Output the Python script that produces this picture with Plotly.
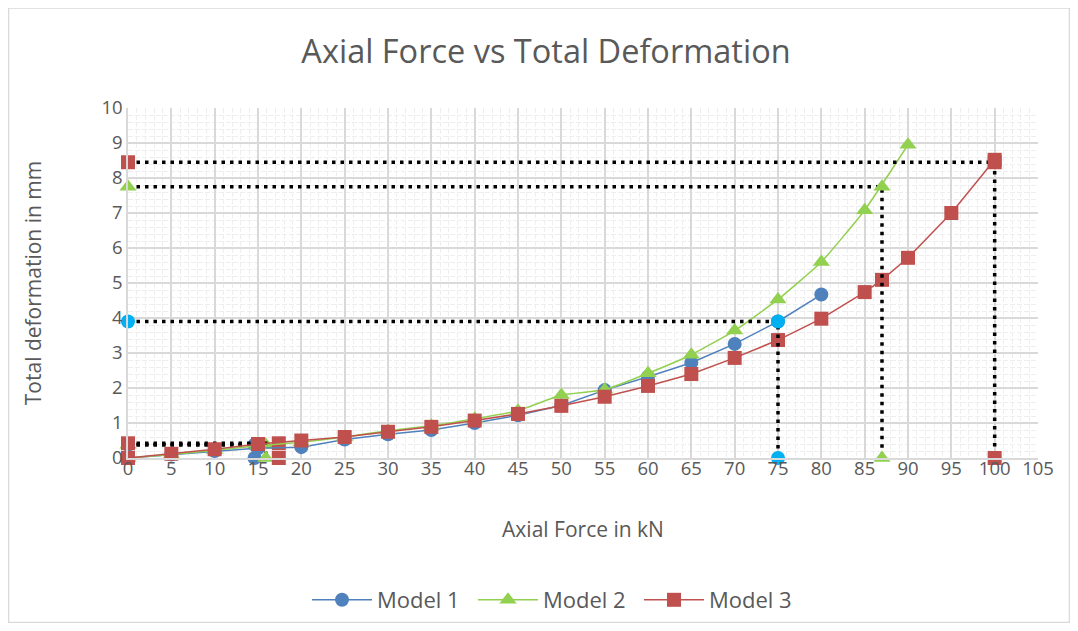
import plotly.graph_objects as go

# ---- data ----
force = [0, 5, 10, 15, 20, 25, 30, 35, 40, 45, 50, 55, 60, 65, 70, 75, 80, 85, 90, 95, 100]
model1_x = force[:17]
model1_y = [0, 0.1, 0.2, 0.28, 0.31, 0.53, 0.68, 0.8, 1.0, 1.22, 1.5, 1.94, 2.32, 2.72, 3.26, 3.9, 4.67]
model2_x = force[:19]
model2_y = [0, 0.1, 0.22, 0.35, 0.45, 0.6, 0.78, 0.92, 1.12, 1.35, 1.8, 1.95, 2.42, 2.95, 3.64, 4.53, 5.6, 7.08, 8.95]
model3_x = [0, 5, 10, 15, 20, 25, 30, 35, 40, 45, 50, 55, 60, 65, 70, 75, 80, 85, 87, 90, 95, 100]
model3_y = [0, 0.12, 0.25, 0.4, 0.5, 0.6, 0.75, 0.89, 1.07, 1.26, 1.49, 1.75, 2.06, 2.4, 2.86, 3.37, 3.98, 4.74, 5.09, 5.72, 7.0, 8.52]

# drop lines (reference points)
drop1_x = [0, 75, 75]
drop1_y = [3.9, 3.9, 0]
drop2_x = [0, 87, 87]
drop2_y = [7.75, 7.75, 0]
drop3_x = [0, 100, 100]
drop3_y = [8.45, 8.45, 0]
small1_x = [0, 14.6, 14.6]
small1_y = [0.38, 0.38, 0]
small2_x = [0, 15.9, 15.9]
small2_y = [0.38, 0.38, 0]
small3_x = [0, 17.4, 17.4]
small3_y = [0.42, 0.42, 0]

BLUE = "#4F81BD"
GREEN = "#92D050"
RED = "#C0504D"
CYAN = "#00B0F0"
TXT = "#595959"

fig = go.Figure()

dot = dict(color="black", width=3.5, dash="3.5px,5px")

def drop(x, y, sym, col, size):
    fig.add_trace(go.Scatter(x=x, y=y, mode="lines+markers", showlegend=False,
                             line=dot, cliponaxis=False,
                             marker=dict(symbol=sym, color=col, size=size, line=dict(width=0))))

drop(small1_x, small1_y, "circle", BLUE, 14)
drop(small2_x, small2_y, "triangle-up", GREEN, 15)
drop(small3_x, small3_y, "square", RED, 14)

fig.add_trace(go.Scatter(x=model1_x, y=model1_y, name="Model 1", mode="lines+markers",
                         cliponaxis=False,
                         line=dict(color=BLUE, width=1.5),
                         marker=dict(symbol="circle", color=BLUE, size=14)))
fig.add_trace(go.Scatter(x=model2_x, y=model2_y, name="Model 2", mode="lines+markers",
                         cliponaxis=False,
                         line=dict(color=GREEN, width=1.5, shape="spline", smoothing=0.4),
                         marker=dict(symbol="triangle-up", color=GREEN, size=15)))
fig.add_trace(go.Scatter(x=model3_x, y=model3_y, name="Model 3", mode="lines+markers",
                         cliponaxis=False,
                         line=dict(color=RED, width=1.5),
                         marker=dict(symbol="square", color=RED, size=14)))

drop(drop1_x, drop1_y, "circle", CYAN, 14)
drop(drop2_x, drop2_y, "triangle-up", GREEN, 15)
drop(drop3_x, drop3_y, "square", RED, 14)

axis_common = dict(
    showgrid=True, gridcolor="#D9D9D9", gridwidth=1.5,
    zeroline=False, showline=True, linecolor="#D9D9D9", linewidth=1.5,
    ticks="", tickfont=dict(family="Open Sans", size=18.5, color=TXT),
)

W, H = 1062, 615
fig.update_layout(
    width=W, height=H,
    paper_bgcolor="white", plot_bgcolor="white",
    margin=dict(l=120, r=32, t=100, b=165, autoexpand=False),
    title=dict(text="Axial Force vs Total Deformation", x=(546 - 8) / W, xanchor="center",
               y=1 - 44 / H, yanchor="middle",
               font=dict(family="Open Sans", size=32.5, color=TXT)),
    xaxis=dict(range=[0, 105], dtick=5, tick0=0, ticklabelstandoff=-7,
               title=dict(text="Axial Force in kN", standoff=43,
                          font=dict(family="Open Sans", size=21, color=TXT)),
               minor=dict(dtick=1, showgrid=True, gridcolor="#EEEEEE", griddash="5px,2px", gridwidth=1),
               **axis_common),
    yaxis=dict(range=[0, 10], dtick=1, tick0=0,
               title=dict(text="Total deformation in mm", standoff=54,
                          font=dict(family="Open Sans", size=21, color=TXT)),
               minor=dict(dtick=0.2, showgrid=True, gridcolor="#EEEEEE", griddash="5px,2px", gridwidth=1),
               **axis_common),
    legend=dict(orientation="h", x=(556 - 128) / 910, xanchor="center", y=-(600 - 458) / 350, yanchor="middle",
                font=dict(family="Open Sans", size=22, color=TXT), itemwidth=60, entrywidth=91,
                traceorder="normal"),
    shapes=[dict(type="rect", xref="paper", yref="paper",
                 x0=-119.5 / 910, x1=(W - 120.5) / 910, y0=-(164.5) / 350, y1=(350.5 + 99.5) / 350,
                 line=dict(color="#D9D9D9", width=1.5), fillcolor="rgba(0,0,0,0)", layer="below")],
)

fig.write_html("out.html")
